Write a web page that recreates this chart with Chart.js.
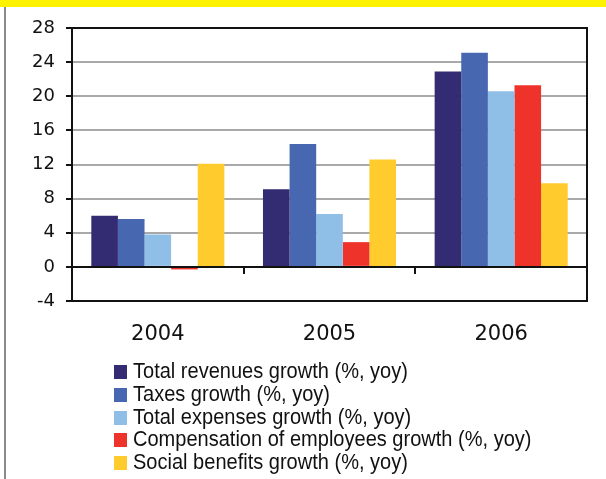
<!DOCTYPE html>
<html>
<head>
<meta charset="utf-8">
<script src="https://cdn.jsdelivr.net/npm/chart.js@4"></script>
<style>
  html, body { margin: 0; padding: 0; background: #fff; }
  #wrap { position: relative; width: 606px; height: 479px; overflow: hidden; }
  #topbar { position: absolute; left: 0; top: 0; width: 606px; height: 7px; background: #fff200; }
  #leftline { position: absolute; left: 4px; top: 7px; width: 2px; height: 472px; background: #8a8a8a; }
  #legend { position: absolute; left: 114px; top: 360px; font-family: "Liberation Sans", sans-serif; font-size: 22.5px; color: #111; }
  #legend div { height: 22.75px; line-height: 22.75px; white-space: nowrap; }
  #legend .box { display: inline-block; width: 13px; height: 14px; margin-right: 6px; vertical-align: -1px; }
  #legend .txt { display: inline-block; transform: scaleX(0.89); transform-origin: left center; }
</style>
</head>
<body>
<div id="wrap">
  <canvas id="chart" width="606" height="479"></canvas>
  <div id="topbar"></div>
  <div id="leftline"></div>
  <div id="legend"></div>
</div>
<script>
// Data
const years = ['2004', '2005', '2006'];
const revenues = [6.0, 9.1, 22.9];
const taxes = [5.6, 14.4, 25.1];
const expenses = [3.8, 6.2, 20.6];
const compensation = [-0.3, 2.9, 21.3];
const socialBenefits = [12.1, 12.6, 9.8];

const seriesNames = [
    'Total revenues growth (%, yoy)',
    'Taxes growth (%, yoy)',
    'Total expenses growth (%, yoy)',
    'Compensation of employees growth (%, yoy)',
    'Social benefits growth (%, yoy)'
];
const seriesColors = ['#332c72', '#4767b0', '#8fbfe6', '#ee332b', '#ffcb2d'];
const seriesValues = [revenues, taxes, expenses, compensation, socialBenefits];

// Frame around the plot + little ticks on the zero line between years
const framePlugin = {
    id: 'frame',
    afterDraw(chart) {
        const ctx = chart.ctx;
        const a = chart.chartArea;
        const x = chart.scales.x;
        const y0 = chart.scales.y.getPixelForValue(0);
        ctx.save();
        ctx.strokeStyle = '#111';
        ctx.lineWidth = 2;
        ctx.strokeRect(a.left, a.top, a.right - a.left, a.bottom - a.top);
        ctx.beginPath();
        ctx.moveTo(a.left, y0);
        ctx.lineTo(a.right, y0);
        ctx.stroke();
        const step = (a.right - a.left) / years.length;
        for (let i = 1; i < years.length; i++) {
            const px = Math.round(x.left + step * i);
            ctx.beginPath();
            ctx.moveTo(px, y0);
            ctx.lineTo(px, y0 + 7);
            ctx.stroke();
        }
        ctx.restore();
    }
};

const ctx = document.getElementById('chart').getContext('2d');
new Chart(ctx, {
    type: 'bar',
    data: {
        labels: years,
        datasets: seriesValues.map((vals, i) => ({
            label: seriesNames[i],
            data: vals,
            backgroundColor: seriesColors[i],
            borderWidth: 0,
            categoryPercentage: 0.775,
            barPercentage: 1.0
        }))
    },
    options: {
        responsive: false,
        animation: false,
        layout: { padding: { left: 0, right: 19, top: 28, bottom: 0 } },
        plugins: {
            legend: { display: false },
            tooltip: { enabled: false }
        },
        scales: {
            x: {
                grid: { display: false, drawTicks: false },
                border: { display: false },
                ticks: {
                    color: '#111',
                    padding: 21,
                    font: { family: 'DejaVu Sans', size: 21 }
                },
                afterFit(scale) { scale.height = 178; }
            },
            y: {
                min: -4,
                max: 28,
                ticks: {
                    stepSize: 4,
                    color: '#111',
                    padding: 11,
                    font: { family: 'DejaVu Sans', size: 18 }
                },
                grid: {
                    color: '#a9a9a9',
                    lineWidth: 2,
                    tickColor: '#111',
                    tickLength: 6
                },
                border: { color: '#111', width: 2 },
                afterFit(scale) { scale.width = 72; }
            }
        }
    },
    plugins: [framePlugin]
});

// Vertical legend below the chart
const legend = document.getElementById('legend');
seriesNames.forEach((name, i) => {
    const row = document.createElement('div');
    row.innerHTML = '<span class="box" style="background:' + seriesColors[i] + '"></span><span class="txt">' + name + '</span>';
    legend.appendChild(row);
});
</script>
</body>
</html>
